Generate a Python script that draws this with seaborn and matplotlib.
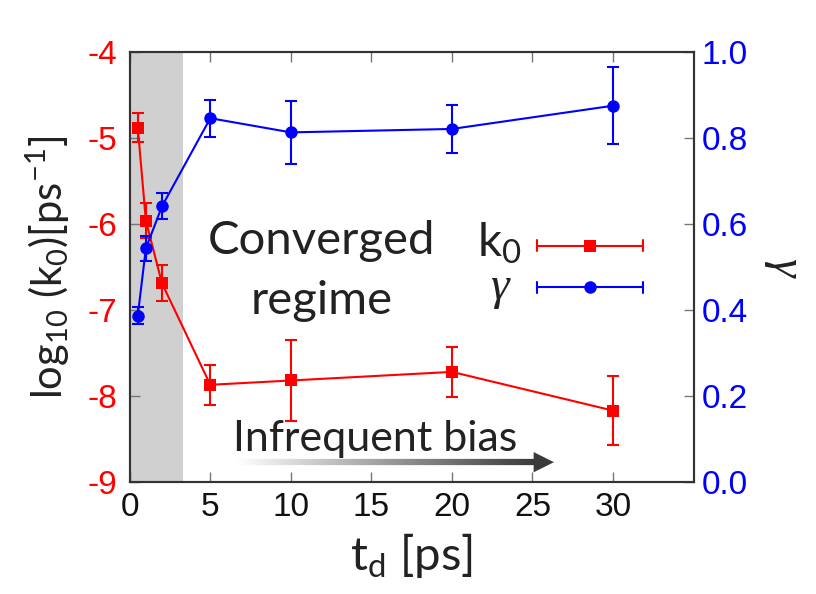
import numpy as np
import pandas as pd
import seaborn as sns
import matplotlib
matplotlib.use("Agg")
import matplotlib.pyplot as plt
from matplotlib.collections import LineCollection

# ---- data ----
td = [0.5, 1, 2, 5, 10, 20, 30]
log_k0 = [-4.88, -5.96, -6.69, -7.87, -7.82, -7.72, -8.17]
log_k0_err = [0.17, 0.20, 0.21, 0.23, 0.47, 0.29, 0.40]
gamma = [0.387, 0.543, 0.641, 0.846, 0.813, 0.821, 0.875]
gamma_err = [0.02, 0.03, 0.03, 0.043, 0.074, 0.055, 0.09]
xticks = [0, 5, 10, 15, 20, 25, 30]
yticks_left = [-4, -5, -6, -7, -8, -9]
yticks_right = [0.0, 0.2, 0.4, 0.6, 0.8, 1.0]
shade_end = 3.3

sns.set_theme(style="ticks")
plt.rcParams['font.family'] = ['Liberation Sans', 'DejaVu Sans']
plt.rcParams['mathtext.fontset'] = 'custom'
plt.rcParams['mathtext.rm'] = 'Lato'
plt.rcParams['mathtext.it'] = 'Lato:italic'
plt.rcParams['mathtext.default'] = 'regular'

RED = '#ff0000'
BLUE = '#0000ff'
DARK = '#222222'
LABEL_FONT = ['Lato', 'DejaVu Sans']
SERIF = ['Liberation Serif', 'DejaVu Serif']

fig = plt.figure(figsize=(8.16, 5.94), dpi=100)
ax = fig.add_axes([0.159, 0.1886, 0.691, 0.7239])
ax2 = ax.twinx()

df = pd.DataFrame({'td': td, 'k0': log_k0, 'k0e': log_k0_err,
                   'g': gamma, 'ge': gamma_err})

ax.axvspan(0, shade_end, color='#d0d0d0', lw=0, zorder=0)

sns.lineplot(data=df, x='td', y='k0', ax=ax, color=RED, marker='s',
             markersize=9, markeredgewidth=0, lw=1.5, zorder=3)
ax.errorbar(df['td'], df['k0'], yerr=df['k0e'], fmt='none', ecolor=RED,
            elinewidth=1.5, capsize=4.5, capthick=1.5, zorder=3)

sns.lineplot(data=df, x='td', y='g', ax=ax2, color=BLUE, marker='o',
             markersize=9, markeredgewidth=0, lw=1.5, zorder=3)
ax2.errorbar(df['td'], df['g'], yerr=df['ge'], fmt='none', ecolor=BLUE,
             elinewidth=1.5, capsize=4.5, capthick=1.5, zorder=3)

ax.set_xlim(0, 35)
ax.set_ylim(-9, -4)
ax2.set_ylim(0, 1.0)
ax.set_xticks(xticks)
ax.set_xticklabels([str(v) for v in xticks])
ax.set_yticks(yticks_left)
ax.set_yticklabels([str(v) for v in yticks_left])
ax2.set_yticks(yticks_right)
ax2.set_yticklabels([f"{v:.1f}" for v in yticks_right])

for a in (ax, ax2):
    for s in a.spines.values():
        s.set_visible(True)
        s.set_color('#333333')
        s.set_linewidth(1.5)

ax.tick_params(axis='x', direction='in', length=7, width=1, color='#777777',
               labelsize=24, labelcolor='#111111', top=True, pad=7)
ax.tick_params(axis='y', direction='in', length=7, width=1, color='#777777',
               labelsize=24, labelcolor=RED, pad=9)
ax2.tick_params(axis='y', direction='in', length=7, width=1, color='#777777',
                labelsize=24, labelcolor=BLUE, pad=6)

ax.set_xlabel(r't$_\mathregular{d}$ [ps]', fontsize=34, family=LABEL_FONT,
              color=DARK, labelpad=6)
ax.set_ylabel(r'log$_{10}$ (k$_0$)[ps$^{-1}$]', fontsize=30, family=LABEL_FONT,
              color=DARK, labelpad=11)
ax2.set_ylabel('γ', fontsize=34, family=SERIF, style='italic', color=DARK,
               labelpad=26, rotation=270, va='center')

ax.text(0.34, 0.56, 'Converged', transform=ax.transAxes, ha='center',
        va='center', fontsize=34, family=LABEL_FONT, color=DARK, zorder=5)
ax.text(0.34, 0.42, 'regime', transform=ax.transAxes, ha='center',
        va='center', fontsize=34, family=LABEL_FONT, color=DARK, zorder=5)

# legend (gnuplot style)
ax.text(0.695, 0.555, r'k$_0$', transform=ax.transAxes, ha='right', va='center',
        fontsize=34, family=LABEL_FONT, color=DARK)
ax.text(0.672, 0.452, 'γ', transform=ax.transAxes, ha='right', va='center',
        fontsize=34, family=SERIF, style='italic', color=DARK)
for fy, col, mk in [(0.549, RED, 's'), (0.453, BLUE, 'o')]:
    ax.plot([0.723, 0.910], [fy, fy], transform=ax.transAxes, color=col, lw=1.5)
    for fx in (0.723, 0.910):
        ax.plot([fx, fx], [fy - 0.013, fy + 0.013], transform=ax.transAxes,
                color=col, lw=1.5)
    ax.plot([0.817], [fy], transform=ax.transAxes, color=col, marker=mk,
            markersize=9, markeredgewidth=0)

# Infrequent bias arrow with gradient shaft
ax.text(0.183, 0.10, 'Infrequent bias', transform=ax.transAxes, ha='left',
        va='center', fontsize=31, family=LABEL_FONT, color=DARK)
x0, x1, ya = 6.5, 25.2, -8.77
xs = np.linspace(x0, x1, 150)
segs = [[(xs[i], ya), (xs[i + 1], ya)] for i in range(len(xs) - 1)]
cmap = matplotlib.colors.LinearSegmentedColormap.from_list('g', ['#ffffff', '#3a3a3a'])
cols = cmap(np.linspace(0, 1, len(segs)))
lc = LineCollection(segs, colors=cols, linewidths=4.5, capstyle='butt')
ax.add_collection(lc)
ax.annotate('', xy=(26.5, ya), xytext=(25.0, ya),
            arrowprops=dict(arrowstyle='-|>,head_length=1.2,head_width=0.6',
                            color='#3a3a3a', lw=0.1))

fig.savefig('out.png', dpi=100)
